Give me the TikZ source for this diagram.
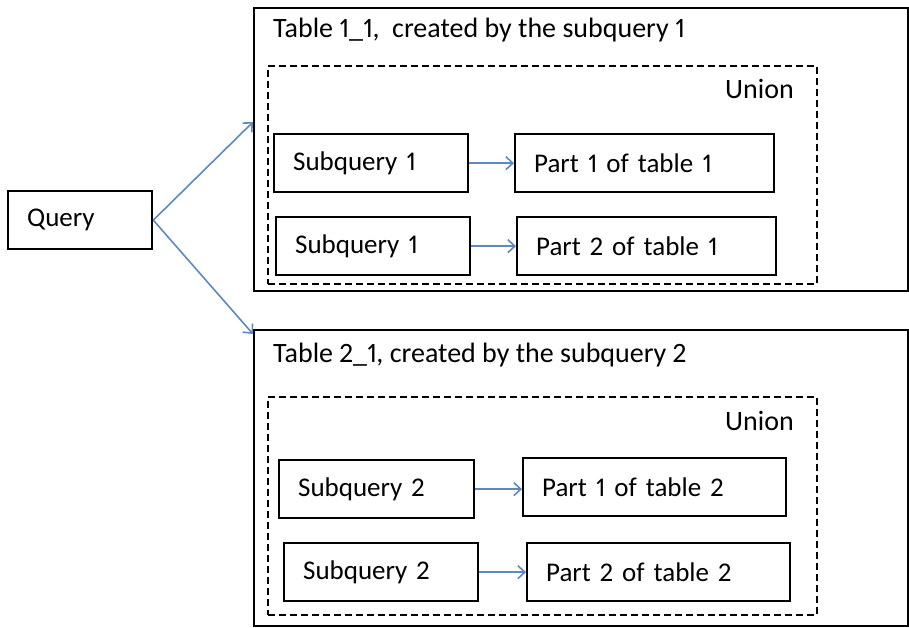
\documentclass[tikz,border=0pt]{standalone}
\usepackage{fontspec}
\setmainfont{Carlito}[Numbers=Proportional]
\usetikzlibrary{arrows.meta}
\definecolor{linkblue}{RGB}{92,137,192}
\tikzset{
  cell/.style={draw, line width=2.3pt, anchor=north west, inner xsep=19pt, inner ysep=0pt,
    align=left, font=\fontsize{27}{30}\selectfont},
  frame/.style={draw, line width=2.3pt, anchor=north west, inner sep=0pt},
  unionframe/.style={draw, line width=2.2pt, dash pattern=on 7pt off 4pt, anchor=north west, inner sep=0pt},
  caption/.style={anchor=west, inner sep=0pt, font=\fontsize{28}{30}\selectfont},
  link/.style={draw=linkblue, line width=1.6pt, -{Straight Barb[length=7pt,width=13pt,line width=1.6pt]}}
}
\begin{document}
\begin{tikzpicture}[x=1pt, y=-1pt]
\useasboundingbox (0,0) rectangle (909,627);

% query
\node[cell, text width=106pt, minimum height=58pt] (q) at (7,190) {Query};

% first result table
\node[frame, minimum width=654pt, minimum height=283pt] (t1) at (253,7) {};
\node[caption] (t1cap) at (273,30) {Table 1\_1,\ \ created by the subquery 1};
\node[unionframe, minimum width=549pt, minimum height=218pt] (u1) at (267,65) {};
\node[caption] (u1cap) at (725,89) {Union};
\node[cell, text width=156pt, minimum height=58pt] (s11) at (273,133) {Subquery 1};
\node[cell, text width=221pt, minimum height=58pt] (p11) at (514,133) {Part 1 of table 1};
\node[cell, text width=156pt, minimum height=58pt] (s12) at (275,216) {Subquery 1};
\node[cell, text width=221pt, minimum height=58pt] (p12) at (516,216) {Part 2 of table 1};

% second result table
\node[frame, minimum width=654pt, minimum height=296pt] (t2) at (253,329) {};
\node[caption] (t2cap) at (273,355) {Table 2\_1, created by the subquery 2};
\node[unionframe, minimum width=549pt, minimum height=218pt] (u2) at (267,396) {};
\node[caption] (u2cap) at (725,421) {Union};
\node[cell, text width=157pt, minimum height=58pt] (s21) at (278,459) {Subquery 2};
\node[cell, text width=225pt, minimum height=58pt] (p21) at (522,457) {Part 1 of table 2};
\node[cell, text width=156pt, minimum height=58pt] (s22) at (283,542) {Subquery 2};
\node[cell, text width=225pt, minimum height=58pt] (p22) at (526,542) {Part 2 of table 2};

% arrow ends on the table frames
\coordinate (t1in) at (253,122);
\coordinate (t2in) at (253,334);

\draw[link] (q.east) -- (t1in);
\draw[link] (q.east) -- (t2in);
\draw[link] (s11.east) -- (s11.east -| p11.west);
\draw[link] (s12.east) -- (s12.east -| p12.west);
\draw[link] (s21.east) -- (s21.east -| p21.west);
\draw[link] (s22.east) -- (s22.east -| p22.west);
\end{tikzpicture}
\end{document}
